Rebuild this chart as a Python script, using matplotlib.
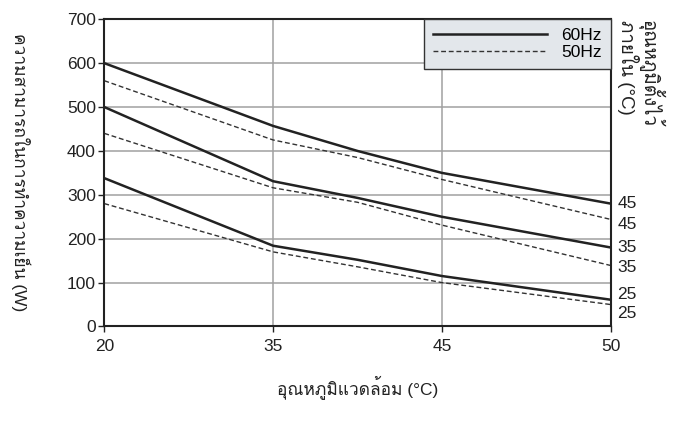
import numpy as np
import matplotlib
matplotlib.use("Agg")
import matplotlib.pyplot as plt
from matplotlib import font_manager

# ambient temperature (deg C) and capacity (W)
ambient = [20, 35, 40, 45, 50]
tick_temps = [20, 35, 45, 50]

cap_60_45 = [600, 457, 400, 350, 280]
cap_50_45 = [560, 425, 385, 335, 244]
cap_60_35 = [500, 331, 293, 250, 180]
cap_50_35 = [440, 316, 283, 231, 139]
cap_60_25 = [338, 184, 152, 115, 61]
cap_50_25 = [280, 170, 136, 100, 50]

set_temps = ['45', '45', '35', '35', '25', '25']


def find_thai_font():
    # look for an installed font that has Thai glyphs
    try:
        from fontTools.ttLib import TTFont
    except ImportError:
        return None
    for f in font_manager.fontManager.ttflist:
        try:
            tt = TTFont(f.fname, fontNumber=0, lazy=True)
            cmap = tt.getBestCmap()
            if cmap and 0x0E01 in cmap and 0x0E2D in cmap:
                return f.name
        except Exception:
            continue
    return None


thai = find_thai_font()
fams = ['Liberation Sans']
if thai:
    fams.append(thai)
fams.append('DejaVu Sans')
plt.rcParams['font.family'] = fams

# the x axis puts the ticks at equal spacing
def fwd(x):
    return np.interp(x, tick_temps, [0, 1, 2, 3])

def inv(x):
    return np.interp(x, [0, 1, 2, 3], tick_temps)


fig = plt.figure(figsize=(6.85, 4.21), dpi=100)
ax = fig.add_axes([0.1523, 0.2245, 0.7392, 0.7297])
ax.set_xscale('function', functions=(fwd, inv))

solid = dict(color='#222222', lw=1.8)
dashed = dict(color='#333333', lw=1.0, ls=(0, (3.5, 2)))

ax.plot(ambient, cap_60_45, label='60Hz', **solid)
ax.plot(ambient, cap_50_45, label='50Hz', **dashed)
ax.plot(ambient, cap_60_35, **solid)
ax.plot(ambient, cap_50_35, **dashed)
ax.plot(ambient, cap_60_25, **solid)
ax.plot(ambient, cap_50_25, **dashed)

# end labels, nudged so they don't collide
ends = [cap_60_45[-1], cap_50_45[-1], cap_60_35[-1], cap_50_35[-1], cap_60_25[-1], cap_50_25[-1]]
nudge = [0, -12, 0, -4, 12, -20]
for lab, e, n in zip(set_temps, ends, nudge):
    ax.annotate(lab, xy=(1.0, e + n), xycoords=('axes fraction', 'data'),
                xytext=(5, 0), textcoords='offset points',
                va='center', ha='left', fontsize=12.5, color='#222222')

ax.set_xlim(20, 50)
ax.set_ylim(0, 700)
ax.set_xticks(tick_temps)
ax.set_xticklabels([str(t) for t in tick_temps])
ax.set_yticks(np.arange(0, 701, 100))
ax.tick_params(labelsize=12.5, colors='#222222', length=4, width=1)
ax.tick_params(axis='x', pad=5)
ax.tick_params(axis='y', pad=2)
ax.grid(True, color='#a0a0a0', lw=1.1)
ax.set_axisbelow(True)
for s in ax.spines.values():
    s.set_linewidth(1.5)
    s.set_color('#222222')

leg = ax.legend(loc='upper right', fontsize=12.5, handlelength=6.6,
                fancybox=False, framealpha=1, borderaxespad=0,
                labelspacing=0.12, borderpad=0.5, handletextpad=0.8)
leg.get_frame().set_facecolor('#e3e7eb')
leg.get_frame().set_edgecolor('#333333')
leg.get_frame().set_linewidth(1.0)

ax.set_xlabel('อุณหภูมิแวดล้อม (°C)', fontsize=12.5, labelpad=15, color='#222222')
fig.text(0.030, 0.59, 'ความสามารถในการทำความเย็น (W)', rotation=-90,
         fontsize=12.5, ha='center', va='center', color='#222222')
fig.text(0.901, 0.953, 'อุณหภูมิตั้งไว้\nภายใน (°C)', rotation=-90,
         fontsize=13.5, ha='left', va='top', multialignment='left',
         linespacing=0.9, color='#222222')

fig.savefig('out.png', dpi=100)
